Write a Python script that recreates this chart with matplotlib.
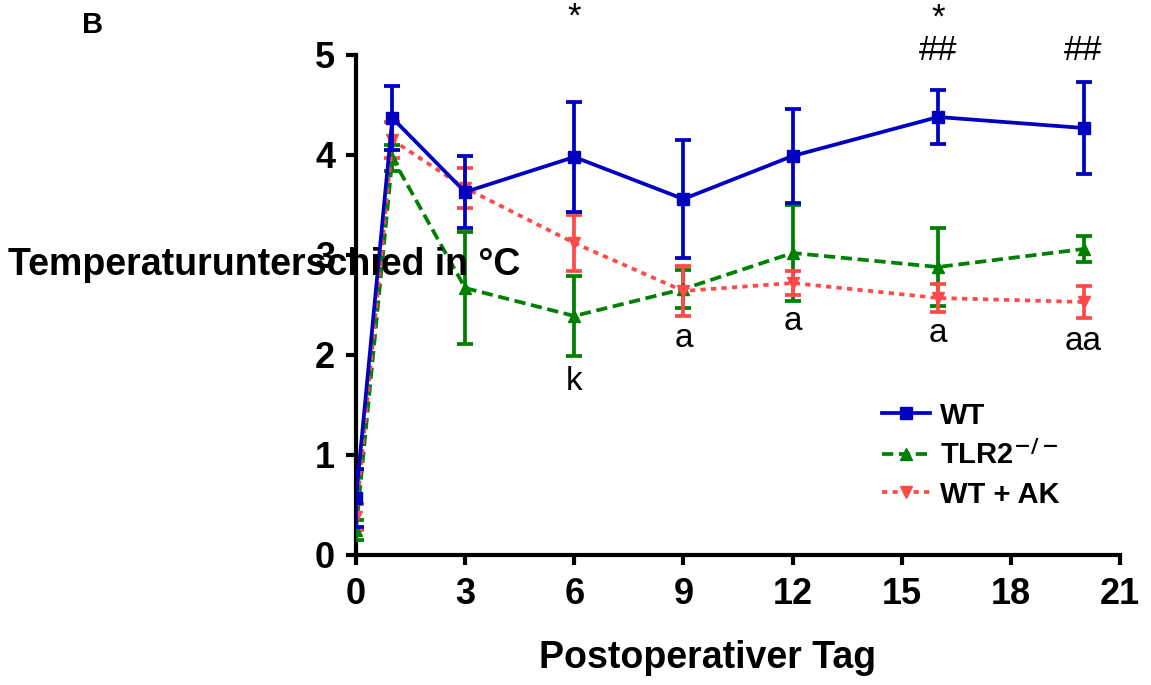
import matplotlib
matplotlib.use("Agg")
import matplotlib.pyplot as plt
from matplotlib.lines import Line2D
import numpy as np

plt.rcParams['font.family'] = ['Liberation Sans', 'DejaVu Sans']

#%% data
days = [0, 1, 3, 6, 9, 12, 16, 20]

wt = [0.57, 4.37, 3.63, 3.98, 3.56, 3.99, 4.38, 4.27]
wt_err = [0.29, 0.32, 0.36, 0.55, 0.59, 0.47, 0.27, 0.46]

tlr2 = [0.25, 3.97, 2.67, 2.39, 2.66, 3.02, 2.88, 3.06]
tlr2_err = [0.10, 0.13, 0.56, 0.40, 0.19, 0.48, 0.39, 0.13]

wtak = [0.38, 4.15, 3.67, 3.12, 2.64, 2.72, 2.57, 2.53]
wtak_err = [0.13, 0.18, 0.20, 0.28, 0.25, 0.12, 0.14, 0.16]

# annotations (day, y baseline, text)
top_marks = [(6, 5.28, '*'), (16, 5.27, '*'), (16, 4.95, '##'), (20, 4.95, '##')]
low_marks = [(6, 1.65, 'k'), (9, 2.08, 'a'), (12, 2.25, 'a'), (16, 2.13, 'a'), (20, 2.05, 'aa')]

#%% plot
fig = plt.figure(figsize=(11.51, 6.85), dpi=100)
ax = fig.add_axes([356/1151, 130/685, (1120-356)/1151, 500/685])

blue, green, red = '#0000c0', '#008000', '#ff4a4a'
lw = 2.7
green_ls = (0, (3.0, 1.5))
red_ls = (0, (1.4, 1.4))

ax.errorbar(days, wt, yerr=wt_err, color=blue, lw=lw, marker='s', ms=9,
            capsize=6, capthick=lw, elinewidth=lw, zorder=4)
ax.errorbar(days, tlr2, yerr=tlr2_err, color=green, lw=lw, ls=green_ls, marker='^', ms=9,
            capsize=6, capthick=lw, elinewidth=lw, zorder=3)
ax.errorbar(days, wtak, yerr=wtak_err, color=red, lw=lw, ls=red_ls, marker='v', ms=9,
            capsize=6, capthick=lw, elinewidth=lw, zorder=3)

for d, y, t in top_marks:
    ax.text(d, y, t, ha='center', va='baseline', fontsize=25, clip_on=False)
for d, y, t in low_marks:
    ax.text(d, y, t, ha='center', va='baseline', fontsize=24)

ax.set_xlim(0, 21)
ax.set_ylim(0, 5)
ax.set_xticks(np.arange(0, 22, 3))
ax.set_yticks(np.arange(0, 6, 1))
ax.spines['top'].set_visible(False)
ax.spines['right'].set_visible(False)
ax.spines['left'].set_linewidth(3)
ax.spines['bottom'].set_linewidth(3)
ax.tick_params(width=3, length=7, labelsize=26)
ax.tick_params(axis='x', pad=9)
ax.tick_params(axis='y', pad=8)
for lab in ax.get_xticklabels() + ax.get_yticklabels():
    lab.set_fontweight('bold')

fig.text(708/1151, 1 - 658/685, 'Postoperativer Tag', fontsize=27, fontweight='bold',
         ha='center', va='center')
fig.text(8/1151, 1 - 265/685, 'Temperaturunterschied in °C', fontsize=27, fontweight='bold',
         ha='left', va='center')
fig.text(82/1151, 1 - 25/685, 'B', fontsize=21, fontweight='bold', ha='left', va='center')

handles = [Line2D([], [], color=blue, lw=lw, marker='s', ms=9),
           Line2D([], [], color=green, lw=lw, ls=green_ls, marker='^', ms=9),
           Line2D([], [], color=red, lw=lw, ls=red_ls, marker='v', ms=9)]
labels = ['WT', 'TLR2$^{\\mathbf{-/-}}$', 'WT + AK']
ax.legend(handles, labels, loc='upper left', bbox_to_anchor=(514/764, 0.33), frameon=False,
          prop={'size': 21, 'weight': 'bold'}, handlelength=1.65, labelspacing=0.36,
          borderaxespad=0, handletextpad=0.35)

fig.savefig('out.png', dpi=100)
